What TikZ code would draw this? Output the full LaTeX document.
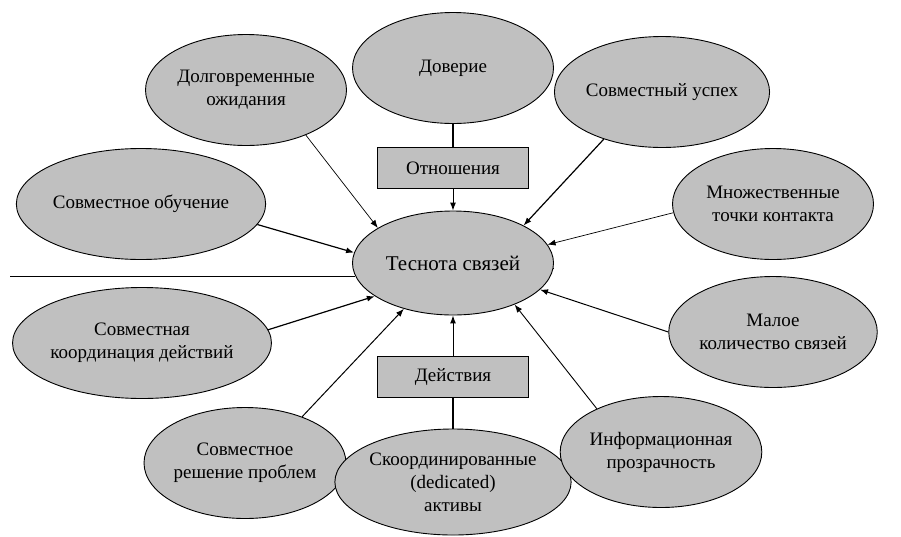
\documentclass[tikz,border=0pt]{standalone}
\usepackage{fontspec}
\setmainfont{Liberation Serif}
\usepackage{tikz}
\usetikzlibrary{arrows.meta,shapes.geometric}
\definecolor{cellgray}{RGB}{192,192,192}

\begin{document}
\begin{tikzpicture}[x=1pt,y=-1pt,oval/.style={ellipse,draw,line width=0.9pt,fill=cellgray,align=center,inner sep=0pt,minimum width=201pt,minimum height=111pt,font=\fontsize{19}{23}\selectfont},box/.style={draw,line width=0.9pt,fill=cellgray,minimum width=151pt,minimum height=41pt,font=\fontsize{19}{23}\selectfont},arr/.style={-{Latex[length=8pt,width=6pt]},line width=0.7pt},arrthick/.style={arr,line width=1.2pt}]
\useasboundingbox (0,0) rectangle (901,536);
\node[oval,minimum height=104pt,font=\fontsize{21}{25}\selectfont] (tight) at (453,263) {Теснота связей};
\node[oval] (trust) at (453,68) {Доверие};
\node[box] (rel) at (453,168) {Отношения};
\node[oval] (lt) at (246,90) {Долговременные\\ожидания};
\node[oval] (learn) at (141,204) {Совместное обучение};
\node[oval] (success) at (662,92) {Совместный успех};
\node[oval] (multi) at (773,204) {Множественные\\точки контакта};
\node[oval] (coord) at (142,343) {Совместная\\координация действий};
\node[oval] (solve) at (245,463) {Совместное\\решение проблем};
\node[box] (act) at (453,377) {Действия};
\node[oval,minimum height=106pt] (assets) at (453,482) {Скоординированные\\(dedicated)\\активы};
\node[oval] (few) at (773,332) {Малое\\количество связей};
\node[oval] (info) at (661,452) {Информационная\\прозрачность};
\coordinate (lend) at (10,276);
\coordinate (rend) at (901,268);
\draw[line width=0.9pt] (lend) -- (lend -| tight.187.6);\draw[line width=0.9pt] (tight.-3) -- (rend -| tight.-3);
\draw[line width=1.2pt] (trust) -- (rel);\draw[arr,line width=1pt] (rel) -- (tight);\draw[line width=1.2pt] (assets) -- (act);\draw[arr,line width=1pt] (act) -- (tight);
\draw[arr] (lt.-37) -- (tight.155);\draw[arrthick] (learn.-10) -- (tight.174);\draw[arrthick] (success.-141) -- (tight.28);\draw[arr] (multi.185) -- (tight.11);
\draw[arrthick] (coord.6) -- (tight.-157);\draw[arr,line width=1pt] (solve.39) -- (tight.-137);\draw[arr,line width=1pt] (few.west) -- (tight.-17);\draw[arr,line width=0.9pt] (info.146) -- (tight.-34);
\end{tikzpicture}
\end{document}
